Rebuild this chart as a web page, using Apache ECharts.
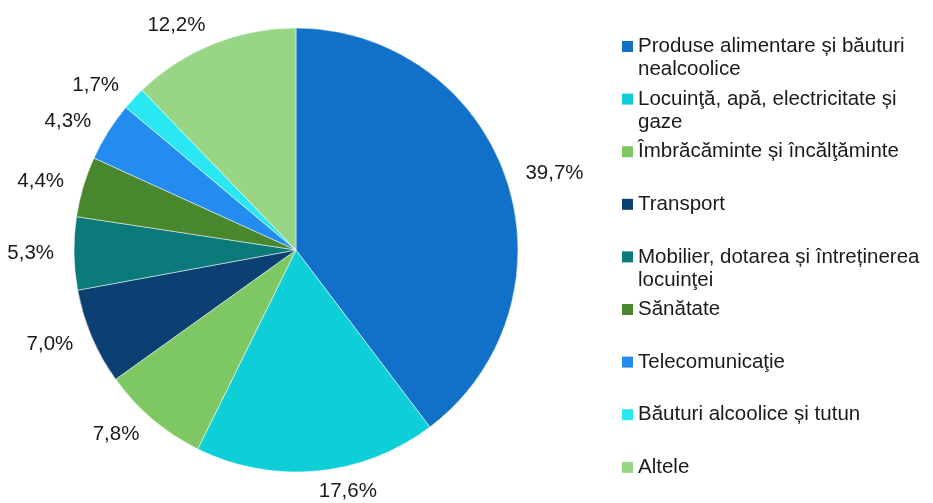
<!DOCTYPE html>
<html>
<head>
<meta charset="utf-8">
<script src="https://cdn.jsdelivr.net/npm/echarts@6/dist/echarts.min.js"></script>
<style>
    html, body { margin: 0; padding: 0; background: #fff; }
    #chart { width: 933px; height: 503px; }
</style>
</head>
<body>
<div id="chart"></div>
<script>
// categorii si ponderi (%)
const categories = [
    'Produse alimentare și băuturi\nnealcoolice',
    'Locuinţă, apă, electricitate și\ngaze',
    'Îmbrăcăminte și încălţăminte',
    'Transport',
    'Mobilier, dotarea și întreținerea\nlocuinţei',
    'Sănătate',
    'Telecomunicaţie',
    'Băuturi alcoolice și tutun',
    'Altele'
]
const values = [39.7, 17.6, 7.8, 7.0, 5.3, 4.4, 4.3, 1.7, 12.2]
const colors = ['#1170c8', '#0ecfd8', '#7dc862', '#0c3f72', '#0a7a7a', '#48872d', '#238cee', '#2ae8f2', '#98d585']

const font = 'Liberation Sans, Arial, sans-serif'
const chart = echarts.init(document.getElementById('chart'))

// o legenda separata pentru fiecare element, ca sa fie asezate la pas egal
const legends = categories.map((name, i) => {
    const twoLines = name.indexOf('\n') >= 0
    return {
        data: [name],
        orient: 'vertical',
        left: 622,
        top: 46.5 + i * 52.6 - (twoLines ? 34.5 : 11.5),
        padding: 0,
        itemWidth: 11,
        itemHeight: 11,
        icon: 'rect',
        itemStyle: { borderWidth: 0 },
        selectedMode: false,
        // linie goala deasupra, ca iconita sa stea langa primul rand
        formatter: n => (n.indexOf('\n') >= 0 ? '\n' + n : n),
        textStyle: {
            fontFamily: font,
            fontSize: 20.5,
            lineHeight: 23,
            color: '#1a1a1a'
        }
    }
})

chart.setOption({
    animation: false,
    color: colors,
    legend: legends,
    series: [{
        type: 'pie',
        center: [296, 250],
        radius: 222,
        startAngle: 90,
        clockwise: true,
        avoidLabelOverlap: false,
        itemStyle: {
            borderColor: '#fff',
            borderWidth: 0.5
        },
        label: {
            position: 'outside',
            distanceToLabelLine: 0,
            fontFamily: font,
            fontSize: 20.5,
            color: '#1a1a1a',
            formatter: p => p.value.toFixed(1).replace('.', ',') + '%'
        },
        labelLine: {
            show: false,
            length: 20,
            length2: 0
        },
        data: categories.map((name, i) => ({ name: name, value: values[i] }))
    }]
})
</script>
</body>
</html>
